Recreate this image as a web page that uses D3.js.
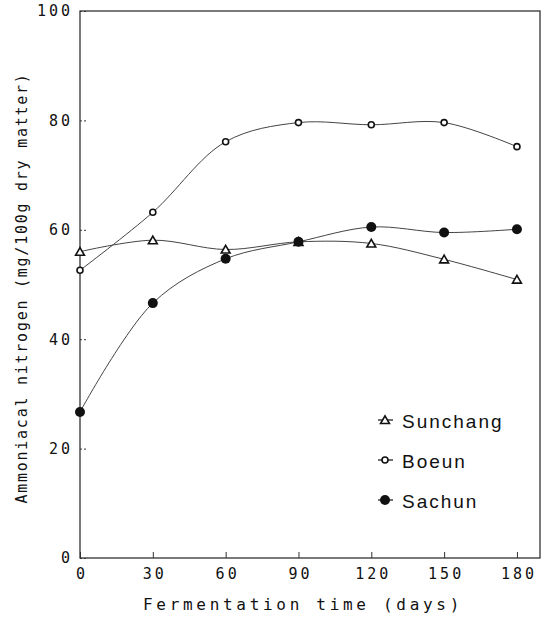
<!DOCTYPE html>
<html>
<head>
<meta charset="utf-8">
<script src="https://cdn.jsdelivr.net/npm/d3@7"></script>
<style>
  body { margin: 0; background: #fff; }
  svg { display: block; }
</style>
</head>
<body>
<div id="container"></div>
<script>
// DATA
const days = [0, 30, 60, 90, 120, 150, 180];
const sunchang = [56.0, 58.1, 56.4, 57.8, 57.5, 54.6, 50.9];
const boeun = [52.6, 63.2, 76.1, 79.6, 79.2, 79.6, 75.2];
const sachun = [26.7, 46.6, 54.7, 57.8, 60.5, 59.5, 60.1];
const yTicks = [0, 20, 40, 60, 80, 100];
const xTicks = [0, 30, 60, 90, 120, 150, 180];
const seriesNames = ["Sunchang", "Boeun", "Sachun"];

const width = 545, height = 623;
const margin = {top: 11, bottom: 65, left: 80, right: 5};

const svg = d3.select("#container").append("svg")
  .attr("width", width)
  .attr("height", height);

// SCALES
const xScale = d3.scaleLinear()
  .domain([0, 189.5])
  .range([margin.left, width - margin.right]);

const yScale = d3.scaleLinear()
  .domain([0, 100])
  .range([height - margin.bottom, margin.top]);

// frame
svg.append("rect")
  .attr("x", xScale(0))
  .attr("y", yScale(100))
  .attr("width", xScale(189.5) - xScale(0))
  .attr("height", yScale(0) - yScale(100))
  .attr("fill", "none")
  .attr("stroke", "#222")
  .attr("stroke-width", 1.2);

// axes
const yAxis = d3.axisLeft(yScale)
  .tickValues(yTicks)
  .tickSize(-6)
  .tickPadding(7)
  .tickFormat(d3.format("d"));

const yAxisGroup = svg.append("g")
  .attr("transform", `translate(${xScale(0)},0)`)
  .call(yAxis);

yAxisGroup.select(".domain").remove();
yAxisGroup.selectAll("line")
  .attr("stroke", "#333")
  .attr("stroke-dasharray", "2,2");
yAxisGroup.selectAll("text")
  .attr("font-family", "DejaVu Sans Mono")
  .attr("font-size", 15)
  .attr("letter-spacing", 3)
  .attr("fill", "#111");

const xAxis = d3.axisBottom(xScale)
  .tickValues(xTicks)
  .tickSize(-6)
  .tickPadding(10)
  .tickFormat(d3.format("d"));

const xAxisGroup = svg.append("g")
  .attr("transform", `translate(0,${yScale(0)})`)
  .call(xAxis);

xAxisGroup.select(".domain").remove();
xAxisGroup.selectAll("line").attr("stroke", "#333");
xAxisGroup.selectAll("text")
  .attr("font-family", "DejaVu Sans Mono")
  .attr("font-size", 15)
  .attr("letter-spacing", 3)
  .attr("dx", 1.5)
  .attr("fill", "#111");

// axis titles
svg.append("text")
  .attr("x", 303)
  .attr("y", 610)
  .attr("text-anchor", "middle")
  .attr("font-family", "DejaVu Sans Mono")
  .attr("font-size", 16)
  .attr("letter-spacing", 3.7)
  .attr("fill", "#111")
  .text("Fermentation time (days)");

svg.append("text")
  .attr("transform", "translate(27,288) rotate(-90)")
  .attr("text-anchor", "middle")
  .attr("font-family", "DejaVu Sans Mono")
  .attr("font-size", 15)
  .attr("letter-spacing", 1.75)
  .attr("fill", "#111")
  .text("Ammoniacal nitrogen (mg/100g dry matter)");

// lines
const lineGen = d3.line()
  .x((d, i) => xScale(days[i]))
  .y(d => yScale(d))
  .curve(d3.curveCatmullRom.alpha(0.5));

const allSeries = [sunchang, boeun, sachun];

svg.selectAll("path.line")
  .data(allSeries)
  .join("path")
  .attr("class", "line")
  .attr("fill", "none")
  .attr("stroke", "#444")
  .attr("stroke-width", 1)
  .attr("d", d => lineGen(d));

// markers
const triangle = d3.symbol().type(d3.symbolTriangle).size(34);

svg.selectAll("path.tri")
  .data(sunchang)
  .join("path")
  .attr("class", "tri")
  .attr("transform", (d, i) => `translate(${xScale(days[i])},${yScale(d) + 1})`)
  .attr("d", triangle)
  .attr("fill", "#fff")
  .attr("stroke", "#111")
  .attr("stroke-width", 1.6);

svg.selectAll("circle.boeun")
  .data(boeun)
  .join("circle")
  .attr("class", "boeun")
  .attr("cx", (d, i) => xScale(days[i]))
  .attr("cy", d => yScale(d))
  .attr("r", 3)
  .attr("fill", "#fff")
  .attr("stroke", "#111")
  .attr("stroke-width", 1.6);

svg.selectAll("circle.sachun")
  .data(sachun)
  .join("circle")
  .attr("class", "sachun")
  .attr("cx", (d, i) => xScale(days[i]))
  .attr("cy", d => yScale(d))
  .attr("r", 5)
  .attr("fill", "#111");

// legend
const legend = svg.append("g");
const legY = [420, 460, 500];

seriesNames.forEach((name, i) => {
  const g = legend.append("g").attr("transform", `translate(385,${legY[i]})`);
  g.append("line")
    .attr("x1", -7).attr("x2", 8)
    .attr("stroke", "#111").attr("stroke-width", 1.2);
  if (i === 0) {
    g.append("path").attr("d", triangle).attr("transform", "translate(0,1)")
      .attr("fill", "#fff").attr("stroke", "#111").attr("stroke-width", 1.6);
  } else if (i === 1) {
    g.append("circle").attr("r", 3)
      .attr("fill", "#fff").attr("stroke", "#111").attr("stroke-width", 1.6);
  } else {
    g.append("circle").attr("r", 5).attr("fill", "#111");
  }
  g.append("text")
    .attr("x", 17)
    .attr("y", 8)
    .attr("font-family", "Liberation Sans")
    .attr("font-size", 19)
    .attr("letter-spacing", 2)
    .attr("fill", "#111")
    .text(name);
});
</script>
</body>
</html>
